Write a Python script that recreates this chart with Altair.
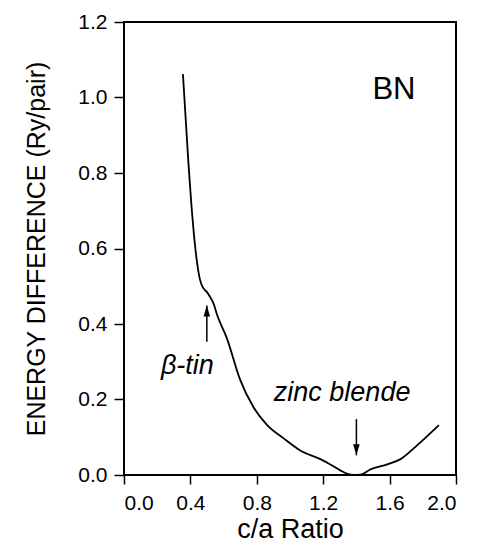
import altair as alt
import pandas as pd

ca = [0.355, 0.387, 0.417, 0.438, 0.458, 0.478, 0.499, 0.518, 0.538, 0.56, 0.62, 0.70, 0.781, 0.861, 0.962, 1.062, 1.183, 1.243, 1.30, 1.345, 1.384, 1.425, 1.485, 1.586, 1.666, 1.767, 1.897]
energy = [1.062, 0.834, 0.658, 0.570, 0.517, 0.495, 0.485, 0.472, 0.456, 0.425, 0.362, 0.252, 0.179, 0.133, 0.097, 0.065, 0.042, 0.028, 0.013, 0.003, 0.0, 0.001, 0.015, 0.028, 0.042, 0.079, 0.132]

arrow_x = [0.499, 1.40]
arrow_tail = [0.353, 0.148]
arrow_tip = [0.449, 0.052]
arrow_shape = ["M -0.6 2 L 0 0 L 0.6 2 Z", "M -0.6 -2 L 0 0 L 0.6 -2 Z"]

italic_labels = ["β-tin", "zinc  blende"]
italic_x = [0.382, 1.314]
italic_y = [0.289, 0.216]

bn_label = ["BN"]
bn_x = [1.626]
bn_y = [1.019]

FONT = "Liberation Sans"

curve = pd.DataFrame({"ca": ca, "e": energy})
arrows = pd.DataFrame({"x": arrow_x, "y1": arrow_tail, "y2": arrow_tip, "shape": arrow_shape})
itexts = pd.DataFrame({"x": italic_x, "y": italic_y, "t": italic_labels})
btexts = pd.DataFrame({"x": bn_x, "y": bn_y, "t": bn_label})

xscale = alt.Scale(domain=[0, 2.0], nice=False, zero=False)
yscale = alt.Scale(domain=[0, 1.2], nice=False)

xaxis = alt.Axis(
    values=[0, 0.2, 0.4, 0.6, 0.8, 1.0, 1.2, 1.4, 1.6, 1.8, 2.0],
    labelExpr="(round(datum.value*10) % 4 == 0) ? format(datum.value, '.1f') : ''",
    title="c/a Ratio", grid=False, tickSize=9, tickColor="black", tickWidth=1.5,
    domain=False, labelFont=FONT, labelFontSize=21, labelColor="black", labelPadding=8,
    titleFont=FONT, titleFontSize=27, titleFontWeight="normal", titleColor="black", titlePadding=3,
)
yaxis = alt.Axis(
    values=[0, 0.2, 0.4, 0.6, 0.8, 1.0, 1.2], format=".1f",
    title="ENERGY DIFFERENCE (Ry/pair)", grid=False, tickSize=10, tickColor="black", tickWidth=1.5,
    domain=False, labelFont=FONT, labelFontSize=21, labelColor="black", labelPadding=7,
    titleFont=FONT, titleFontSize=25, titleFontWeight="normal", titleColor="black", titlePadding=28,
)

line = alt.Chart(curve).mark_line(color="black", strokeWidth=1.8, interpolate="monotone").encode(
    x=alt.X("ca:Q", scale=xscale, axis=xaxis),
    y=alt.Y("e:Q", scale=yscale, axis=yaxis),
)

shafts = alt.Chart(arrows).mark_rule(color="black", strokeWidth=1.5).encode(
    x=alt.X("x:Q", scale=xscale), y=alt.Y("y1:Q", scale=yscale), y2="y2:Q"
)

heads = alt.Chart(arrows).mark_point(filled=True, color="black", opacity=1, size=121, strokeWidth=0).encode(
    x=alt.X("x:Q", scale=xscale), y=alt.Y("y2:Q", scale=yscale), shape=alt.Shape("shape:N", scale=None)
)

itxt = alt.Chart(itexts).mark_text(font=FONT, color="black", fontSize=27, fontStyle="italic").encode(
    x=alt.X("x:Q", scale=xscale), y=alt.Y("y:Q", scale=yscale), text="t:N",
)
btxt = alt.Chart(btexts).mark_text(font=FONT, color="black", fontSize=31).encode(
    x=alt.X("x:Q", scale=xscale), y=alt.Y("y:Q", scale=yscale), text="t:N",
)

chart = alt.layer(line, shafts, heads, itxt, btxt).properties(
    width=332, height=453,
    background="white",
    autosize=alt.AutoSizeParams(type="none"),
    padding={"left": 124, "top": 22, "right": 21, "bottom": 67},
).configure_view(stroke="black", strokeWidth=2)

chart.save("out.html", embed_options={"renderer": "svg", "actions": False})
